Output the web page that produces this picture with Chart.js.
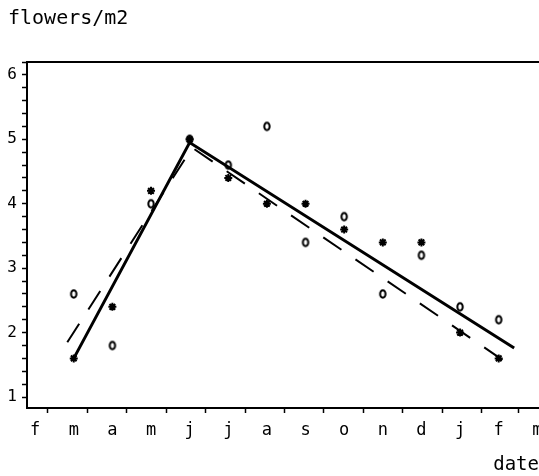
<!DOCTYPE html>
<html>
<head>
<meta charset="utf-8">
<script src="https://cdn.jsdelivr.net/npm/chart.js@4"></script>
<style>
	html, body { margin: 0; padding: 0; background: #fff; overflow: hidden; }
	canvas { display: block; }
</style>
</head>
<body>
<canvas id="chart" width="539" height="476"></canvas>
<script>
// x is days counted from 1 march
const monthLabels = ['f', 'm', 'a', 'm', 'j', 'j', 'a', 's', 'o', 'n', 'd', 'j', 'f', 'm'];
const labelDays = [-10, 20, 50, 80, 110, 140, 170, 200, 230, 260, 290, 320, 350, 380];
const monthStarts = [0, 31, 61, 92, 122, 153, 184, 214, 245, 275, 306, 337, 365];

const sampleDays = [20, 50, 80, 110, 140, 170, 200, 230, 260, 290, 320, 350];
const circleValues = [2.6, 1.8, 4.0, 5.0, 4.6, 5.2, 3.4, 3.8, 2.6, 3.2, 2.4, 2.2];
const starValues = [1.6, 2.4, 4.2, 5.0, 4.4, 4.0, 4.0, 3.6, 3.4, 3.4, 2.0, 1.6];

// fitted broken lines
const solidDays = [20, 110, 362];
const solidValues = [1.6, 4.95, 1.76];
const dashedDays = [15, 112, 360];
const dashedValues = [1.85, 4.87, 1.48];

const yTickValues = [];
for (let i = 0; i <= 26; i++) {
	yTickValues.push(Math.round((1 + i * 0.2) * 10) / 10);
}

const FONT = 'DejaVu Sans Mono';

function toPoints(xs, ys) {
	return xs.map((x, i) => ({ x: x, y: ys[i] }));
}

// small "0" shaped marker
function makeO() {
	const c = document.createElement('canvas');
	c.width = 10;
	c.height = 12;
	const g = c.getContext('2d');
	g.strokeStyle = '#000';
	g.lineWidth = 2;
	g.beginPath();
	g.ellipse(5, 6, 2.7, 3.7, 0, 0, Math.PI * 2);
	g.stroke();
	return c;
}

const data = {
	datasets: [
		{
			data: toPoints(solidDays, solidValues),
			showLine: true,
			borderColor: '#000',
			borderWidth: 3,
			pointRadius: 0,
		},
		{
			data: toPoints(dashedDays, dashedValues),
			showLine: true,
			borderColor: '#000',
			borderWidth: 2,
			borderDash: [22, 17],
			pointRadius: 0,
		},
		{
			data: toPoints(sampleDays, circleValues),
			pointStyle: makeO(),
			pointRadius: 4,
		},
		{
			data: toPoints(sampleDays, starValues),
			pointStyle: 'star',
			pointRadius: 4,
			borderColor: '#000',
			backgroundColor: '#000',
			borderWidth: 2,
		},
	],
};

const config = {
	type: 'scatter',
	data,
	options: {
		responsive: false,
		animation: false,
		layout: {
			autoPadding: false,
			padding: { left: 8, right: 0, top: 0, bottom: 0 },
		},
		scales: {
			x: {
				type: 'linear',
				position: 'bottom',
				min: -16.3,
				max: 381.3,
				grid: {
					drawOnChartArea: false,
					drawTicks: true,
					tickLength: 5,
					tickWidth: 1.5,
					tickColor: ctx => (ctx.tick && monthStarts.includes(ctx.tick.value) ? '#000' : 'rgba(0,0,0,0)'),
				},
				border: { display: true, color: '#000', width: 2 },
				ticks: {
					autoSkip: false,
					maxRotation: 0,
					minRotation: 0,
					padding: 7,
					color: '#000',
					font: { family: FONT, size: 17 },
					callback: value => {
						const i = labelDays.indexOf(value);
						return i >= 0 ? monthLabels[i] : '';
					},
				},
				afterBuildTicks: scale => {
					scale.ticks = monthStarts.concat(labelDays).sort((a, b) => a - b).map(v => ({ value: v }));
				},
				title: {
					display: true,
					text: 'date',
					align: 'end',
					color: '#000',
					font: { family: FONT, size: 19 },
					padding: { top: 0, bottom: 0 },
				},
				afterFit: scale => {
					scale.height = 68;
					scale.paddingLeft = 0;
					scale.paddingRight = 0;
				},
			},
			xTop: {
				type: 'linear',
				position: 'top',
				min: -16.3,
				max: 381.3,
				display: true,
				grid: { display: false },
				ticks: { display: false },
				border: { display: true, color: '#000', width: 2 },
				afterFit: scale => {
					scale.height = 0;
				},
			},
			y: {
				min: 0.83,
				max: 6.2,
				grid: {
					drawOnChartArea: false,
					drawTicks: true,
					tickLength: 5,
					tickWidth: 1.5,
					tickColor: '#000',
				},
				border: { display: true, color: '#000', width: 2 },
				ticks: {
					autoSkip: false,
					padding: 5,
					color: '#000',
					font: { family: FONT, size: 16 },
					callback: value => (Math.abs(value - Math.round(value)) < 0.01 ? String(Math.round(value)) : ''),
				},
				afterBuildTicks: scale => {
					scale.ticks = yTickValues.map(v => ({ value: v }));
				},
				afterFit: scale => {
					scale.width = 19;
					scale.paddingTop = 0;
					scale.paddingBottom = 0;
				},
			},
		},
		plugins: {
			legend: { display: false },
			tooltip: { enabled: false },
			title: {
				display: true,
				text: 'flowers/m2',
				align: 'start',
				color: '#000',
				font: { family: FONT, size: 20, weight: 'normal' },
				padding: { top: 7, bottom: 31 },
			},
		},
	},
};

const myChart = new Chart(document.getElementById('chart'), config);
</script>
</body>
</html>
